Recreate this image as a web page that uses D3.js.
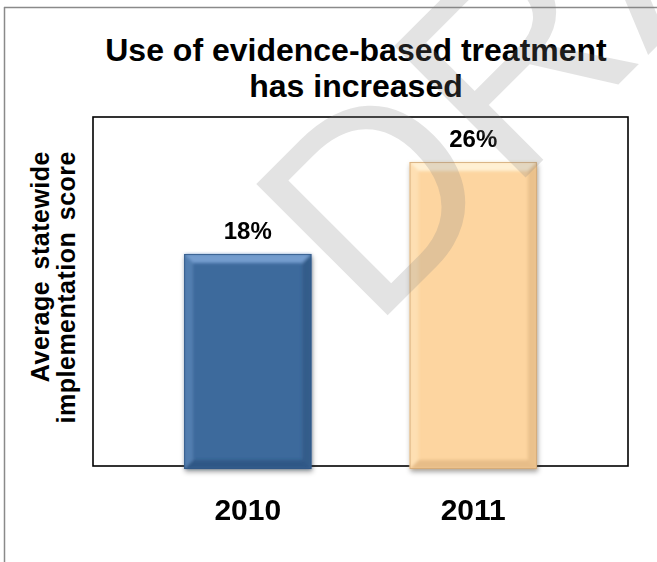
<!DOCTYPE html>
<html>
<head>
<meta charset="utf-8">
<script src="https://cdn.jsdelivr.net/npm/d3@7/dist/d3.min.js"></script>
<style>
  html, body { margin: 0; padding: 0; background: #fff; }
  svg { display: block; }
  text { font-family: "Liberation Sans", Arial, sans-serif; }
</style>
</head>
<body>
<svg id="chart" width="657" height="562"></svg>
<script>
// ---- data ----
const categories = ["2010", "2011"];
const values = [18, 26];
const valueLabels = ["18%", "26%"];
const titleLines = ["Use of evidence-based treatment", "has increased"];
const yLabelLines = ["Average statewide", "implementation score"];
const watermarkText = "DRAFT";

// ---- layout ----
const W = 657, H = 562;
const plot = { left: 93, right: 628, top: 117, bottom: 466 };
const svg = d3.select("#chart");

const x = d3.scaleBand()
  .domain(categories)
  .range([plot.left, plot.right])
  .paddingInner(0.435)
  .paddingOuter(0.404);

const y = d3.scaleLinear().domain([0, 30]).range([461, 116]);

const defs = svg.append("defs");
const shadow = defs.append("filter").attr("id", "shadow")
  .attr("x", "-20%").attr("y", "-20%").attr("width", "140%").attr("height", "140%");
shadow.append("feDropShadow").attr("dx", 1).attr("dy", 3).attr("stdDeviation", 2.5)
  .attr("flood-color", "#000").attr("flood-opacity", 0.35);
const soft = defs.append("filter").attr("id", "soft");
soft.append("feGaussianBlur").attr("stdDeviation", 1.6);

const palettes = [
  { base: "#3e6a9c", light: "#7aa2d4", dark: "#2a4d78", edge: "#2f5685" },
  { base: "#fdd5a0", light: "#fff3d8", dark: "#d8ad78", edge: "#c9a06e" }
];

// outer page border (gray)
svg.append("line").attr("x1", 4).attr("x2", W).attr("y1", 7.5).attr("y2", 7.5)
  .attr("stroke", "#8a8a8a").attr("stroke-width", 1.5);
svg.append("line").attr("x1", 4.5).attr("x2", 4.5).attr("y1", 7).attr("y2", H)
  .attr("stroke", "#8a8a8a").attr("stroke-width", 1.5);

// title
const title = svg.append("text").attr("text-anchor", "middle")
  .attr("font-weight", "bold").attr("font-size", 32).attr("fill", "#000");
titleLines.forEach((t, i) => {
  title.append("tspan").attr("x", 356).attr("y", 61 + i * 36).text(t);
});

// plot box
svg.append("rect").attr("x", plot.left).attr("y", plot.top)
  .attr("width", plot.right - plot.left).attr("height", plot.bottom - plot.top)
  .attr("fill", "none").attr("stroke", "#000").attr("stroke-width", 1.6);

// y label
const yl = svg.append("text").attr("transform", "rotate(-90)")
  .attr("text-anchor", "end").attr("font-weight", "bold").attr("font-size", 25)
  .attr("letter-spacing", 0.5).attr("word-spacing", 4);
yLabelLines.forEach((t, i) => {
  yl.append("tspan").attr("x", -151).attr("y", 49 + i * 26).text(t);
});

// bars with bevel
const bars = svg.append("g");
categories.forEach((c, i) => {
  const p = palettes[i];
  const bx = x(c), bw = x.bandwidth();
  const by = y(values[i]);
  const bh = (plot.bottom + 3) - by;
  const b = 9;
  const g = bars.append("g");
  g.append("rect").attr("x", bx).attr("y", by).attr("width", bw).attr("height", bh)
    .attr("fill", p.base).attr("filter", "url(#shadow)");
  const bev = g.append("g").attr("filter", "url(#soft)");
  bev.append("path").attr("d", `M${bx},${by} L${bx + bw},${by} L${bx + bw - b},${by + b} L${bx + b},${by + b}Z`)
    .attr("fill", p.light).attr("opacity", 0.9);
  bev.append("path").attr("d", `M${bx},${by} L${bx + b},${by + b} L${bx + b},${by + bh - b} L${bx},${by + bh}Z`)
    .attr("fill", p.light).attr("opacity", 0.35);
  bev.append("path").attr("d", `M${bx + bw},${by} L${bx + bw - b},${by + b} L${bx + bw - b},${by + bh - b} L${bx + bw},${by + bh}Z`)
    .attr("fill", p.dark).attr("opacity", 0.5);
  bev.append("path").attr("d", `M${bx},${by + bh} L${bx + b},${by + bh - b} L${bx + bw - b},${by + bh - b} L${bx + bw},${by + bh}Z`)
    .attr("fill", p.dark).attr("opacity", 0.6);
  g.append("rect").attr("x", bx + 0.5).attr("y", by + 0.5).attr("width", bw - 1).attr("height", bh - 1)
    .attr("fill", "none").attr("stroke", p.edge).attr("stroke-width", 1).attr("opacity", 0.7);

  svg.append("text").attr("x", bx + bw / 2).attr("y", by - 15)
    .attr("text-anchor", "middle").attr("font-weight", "bold").attr("font-size", 24)
    .text(valueLabels[i]);

  svg.append("text").attr("x", bx + bw / 2).attr("y", 520)
    .attr("text-anchor", "middle").attr("font-weight", "bold").attr("font-size", 30)
    .text(c);
});

// watermark
svg.append("text").attr("transform", "translate(372,331) rotate(-45)")
  .attr("font-size", 270).attr("fill", "#808080").attr("opacity", 0.22)
  .text(watermarkText);
</script>
</body>
</html>
